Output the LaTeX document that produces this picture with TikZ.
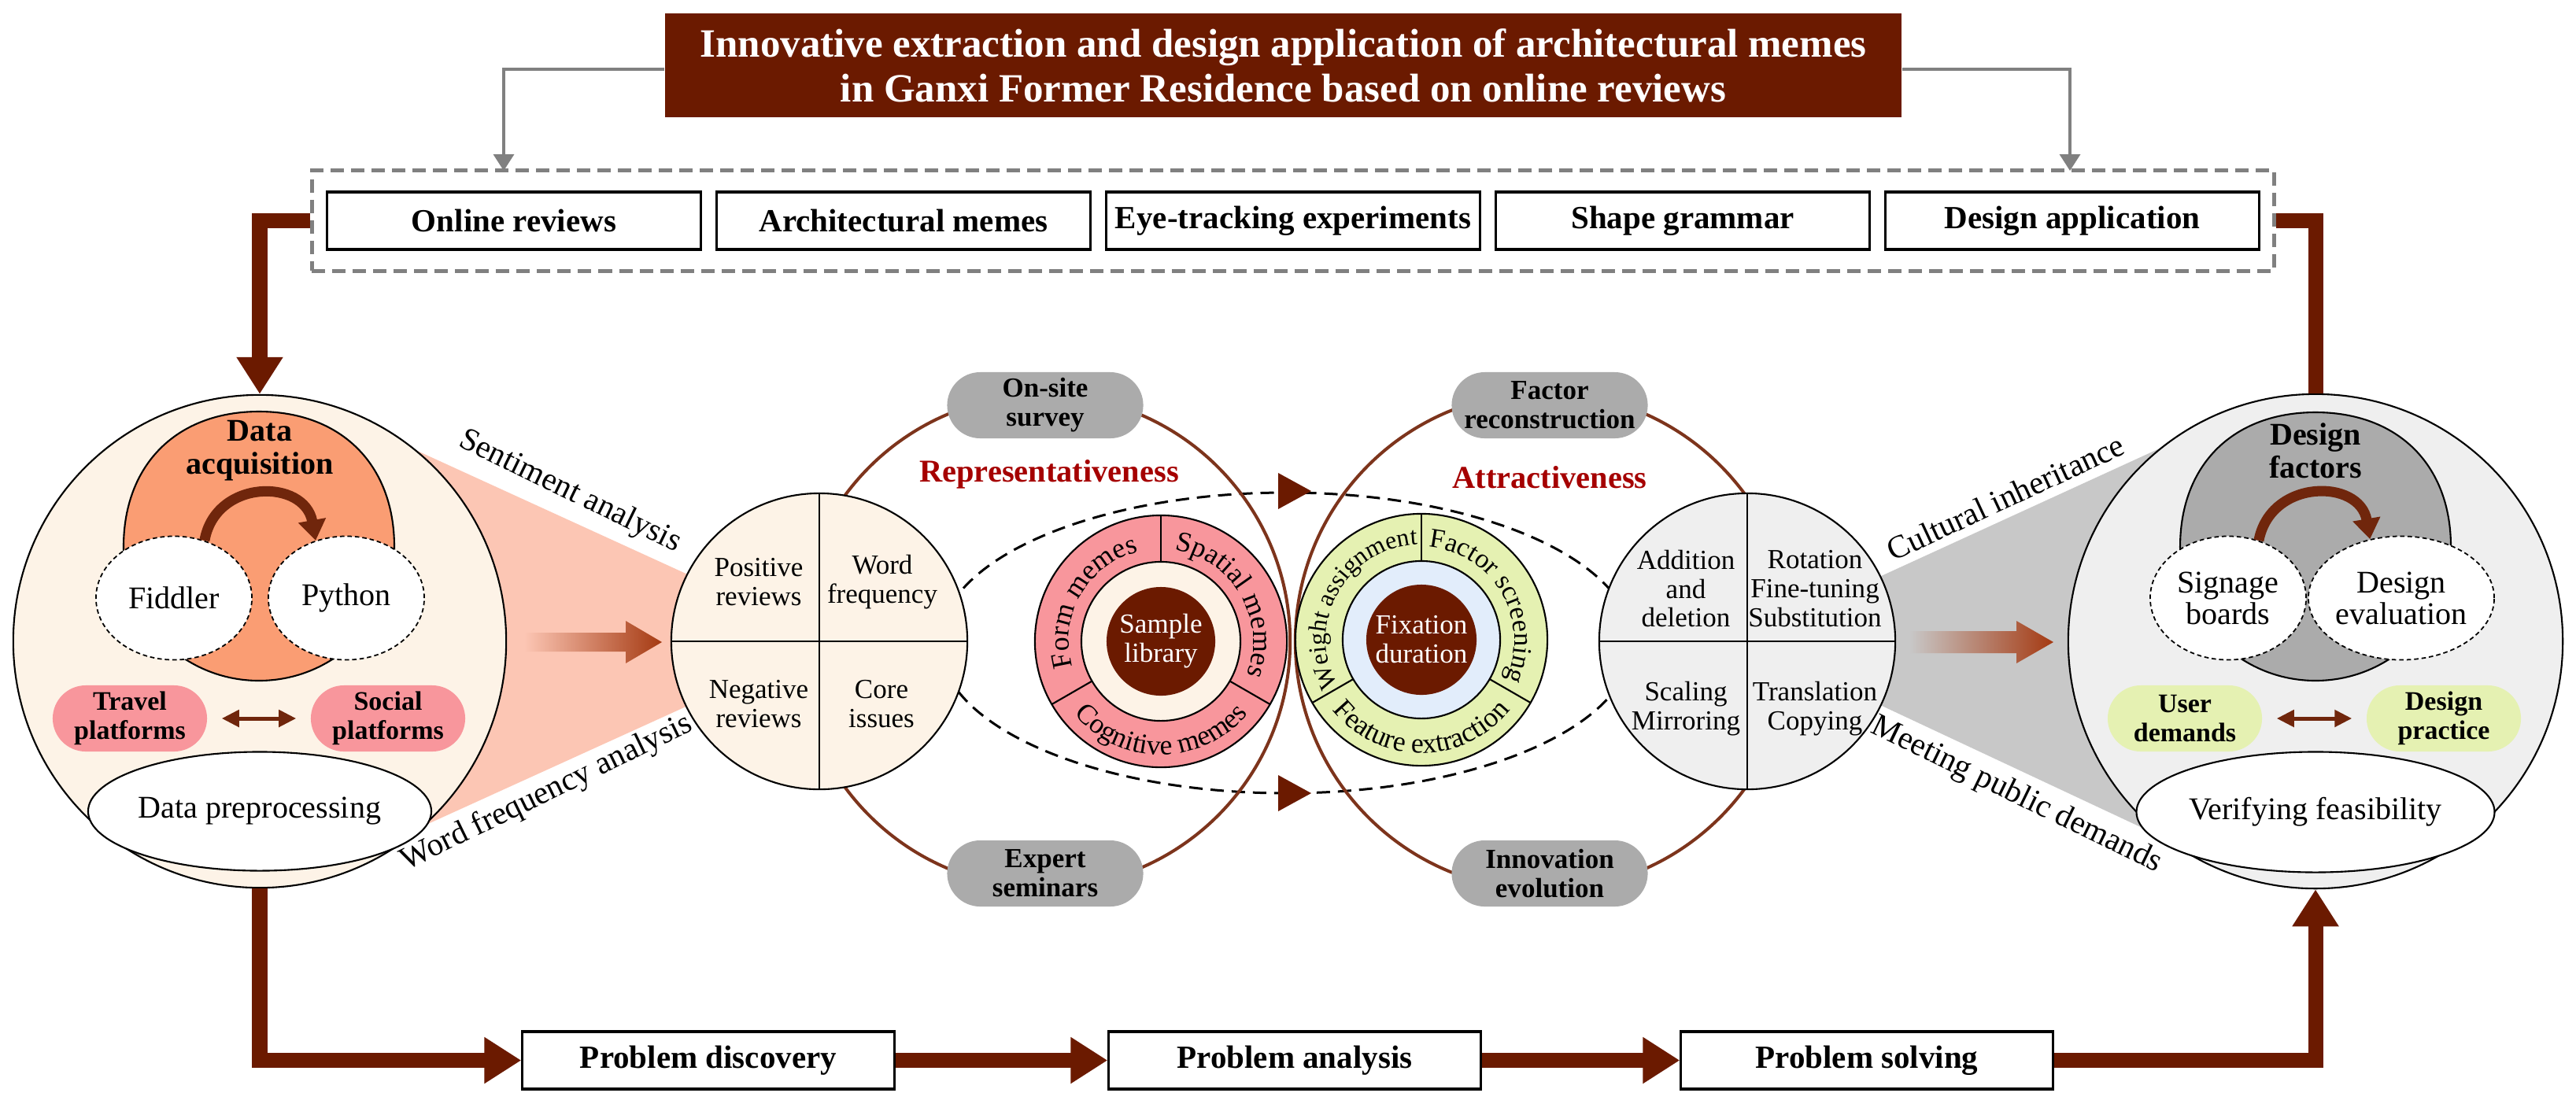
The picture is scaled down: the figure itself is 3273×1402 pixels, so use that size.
\documentclass[tikz,border=0pt]{standalone}
\usepackage{fontspec}
\setmainfont{Liberation Serif}
\usetikzlibrary{arrows.meta,shapes.geometric,calc,decorations.text}
\definecolor{tbrown}{RGB}{107,26,0}
\definecolor{abrown}{RGB}{112,38,12}
\definecolor{cream}{RGB}{253,243,231}
\definecolor{orng}{RGB}{250,157,115}
\definecolor{pinkp}{RGB}{248,150,156}
\definecolor{salmon}{RGB}{252,198,180}
\definecolor{lgray}{RGB}{239,239,239}
\definecolor{mgray}{RGB}{171,171,171}
\definecolor{bgray}{RGB}{200,200,200}
\definecolor{greenp}{RGB}{229,241,178}
\definecolor{lblue}{RGB}{226,237,251}
\definecolor{dred}{RGB}{165,0,0}
\definecolor{ringbr}{RGB}{125,52,28}
\definecolor{gconnc}{RGB}{128,128,128}
\definecolor{headbr}{RGB}{165,58,18}
\newcommand\ftTitle{\fontsize{14.5pt}{16.2pt}\selectfont}
\newcommand\ftBox{\fontsize{11.66pt}{13pt}\selectfont}
\newcommand\ftBig{\fontsize{11.4pt}{12pt}\selectfont}
\newcommand\ftMid{\fontsize{9.96pt}{10.5pt}\selectfont}
\newcommand\ftPill{\fontsize{9.67pt}{10.5pt}\selectfont}
\newcommand\ftRingA{\fontsize{10.2pt}{11pt}\selectfont}
\newcommand\ftRingC{\fontsize{9.8pt}{11pt}\selectfont}
\newcommand\ftRingB{\fontsize{9.1pt}{10pt}\selectfont}
\newcommand\ftKey{\fontsize{11.5pt}{13pt}\selectfont}
\begin{document}
\begin{tikzpicture}[x=0.01cm,y=-0.01cm,
  outl/.style={draw=black,line width=0.6pt},
  topbox/.style={draw=black,line width=0.9pt,fill=white,minimum width=4.75cm,minimum height=0.73cm,inner sep=0pt,font=\ftBox\bfseries},
  botbox/.style={topbox,minimum width=4.72cm},
  bigarr/.style={draw=tbrown,line width=0.19cm,-{Triangle[width=0.56cm,length=0.47cm]}},
  bigln/.style={draw=tbrown,line width=0.19cm},
  gconn/.style={draw=gconnc,line width=1pt,-{Triangle[width=0.26cm,length=0.21cm]}},
  bigc/.style={circle,outl,inner sep=0pt},
  dashell/.style={ellipse,draw=black,line width=0.5pt,dash pattern=on 1.6pt off 1.1pt,fill=white,inner sep=0pt,minimum width=1.98cm,minimum height=1.57cm,font=\fontsize{11.4pt}{11.4pt}\selectfont,align=center},
  solell/.style={ellipse,outl,fill=white,inner sep=0pt,font=\ftBig},
  pill/.style={rounded corners=0.42cm,inner sep=0pt,minimum height=0.84cm,align=center},
  ppill/.style={pill,fill=pinkp,minimum width=1.96cm,font=\ftPill\bfseries},
  gpill/.style={pill,fill=greenp,minimum width=1.96cm,font=\ftPill\bfseries},
  mpill/.style={pill,fill=mgray,minimum width=2.49cm,font=\ftMid\bfseries},
  curv/.style={draw=abrown,line width=0.13cm,-{Triangle[width=0.34cm,length=0.26cm]}},
  dbl/.style={draw=abrown,line width=0.05cm,{Triangle[width=0.21cm,length=0.22cm]}-{Triangle[width=0.21cm,length=0.22cm]},shorten <=0.18cm,shorten >=0.18cm},
  qtxt/.style={font=\ftMid,align=center,inner sep=0pt},
  brc/.style={circle,draw=ringbr,line width=0.04cm,inner sep=0pt},
  keyt/.style={font=\ftKey\bfseries,text=dred},
  beamt/.style={font=\ftBox},
  core/.style={circle,fill=tbrown,inner sep=0pt,minimum size=1.38cm,text=white,font=\ftMid,align=center}]

\fill[white] (0,0) rectangle (3273,1402);
\useasboundingbox (0,0) rectangle (3273,1402);

% beams
\fill[salmon] (480,550) -- (900,742) -- (900,885) -- (480,1076) -- cycle;
\fill[bgray] (2340,755) -- (2820,535) -- (2820,1098) -- (2340,873) -- cycle;

% middle dashed ellipse and brown circles
\draw[black,line width=0.03cm,dash pattern=on 0.17cm off 0.1cm] (1634,817) ellipse[x radius=440,y radius=191];
\node[brc,minimum size=6.26cm] (C1) at (1326,815) {};
\node[brc,minimum size=6.32cm] (C2) at (1962,815) {};
\fill[tbrown] (1624,601) -- (1666,624) -- (1624,647) -- cycle;
\fill[tbrown] (1624,985) -- (1666,1008) -- (1624,1031) -- cycle;

% big circles
\node[bigc,fill=cream,minimum size=6.26cm] (L) at (330,815) {};
\node[bigc,fill=lgray,minimum size=6.28cm] (R) at (2942,815) {};

% left circle content
\draw[outl,fill=orng] (157,695) .. controls (157,590) and (225,523) .. (329,523) .. controls (433,523) and (501,590) .. (501,695) .. controls (501,789) and (424,865) .. (329,865) .. controls (234,865) and (157,789) .. (157,695) -- cycle;
\node[font=\ftBig\bfseries,align=center] (da) at (330,573) {Data\\acquisition};
\node[dashell] (fid) at (221,760) {Fiddler};
\node[dashell] (py) at (440,760) {Python};
\draw[curv] (fid.62) .. controls (274,608) and (387,608) .. (py.118);
\node[ppill] (tp) at (165,913) {Travel\\platforms};
\node[ppill] (sp) at (493,913) {Social\\platforms};
\draw[dbl] (tp) -- (sp);
\node[solell,minimum width=3.66cm,minimum height=1.51cm] (dp) at (330,1031) {Data preprocessing};

% right circle content
\draw[outl,fill=mgray] (2770,695) .. controls (2770,590) and (2838,524) .. (2942,524) .. controls (3046,524) and (3114,590) .. (3114,695) .. controls (3114,789) and (3037,865) .. (2942,865) .. controls (2847,865) and (2770,789) .. (2770,695) -- cycle;
\node[font=\ftBig\bfseries,align=center] (df) at (2942,573) {Design\\factors};
\node[dashell] (sb) at (2831,760) {Signage\\boards};
\node[dashell] (de) at (3051,760) {Design\\evaluation};
\draw[curv] (sb.62) .. controls (2885,608) and (2998,608) .. (de.118);
\node[gpill] (ud) at (2776,913) {User\\demands};
\node[gpill] (dpr) at (3105,913) {Design\\practice};
\draw[dbl] (ud) -- (dpr);
\node[solell,minimum width=3.65cm,minimum height=1.53cm] (vf) at (2942,1032) {Verifying feasibility};

% gradient arrows
\shade[left color=salmon,right color=headbr] (666,804) -- (795,804) -- (795,789) -- (841,816) -- (795,843) -- (795,828) -- (666,828) -- cycle;
\shade[left color=bgray,right color=headbr] (2426,802) -- (2562,802) -- (2562,789) -- (2609,816) -- (2562,843) -- (2562,830) -- (2426,830) -- cycle;

% quartered circles
\node[bigc,fill=cream,minimum size=3.76cm] (Q1) at (1041,815) {};
\draw[outl] (Q1.north) -- (Q1.south) (Q1.west) -- (Q1.east);
\node[qtxt] (q1a) at (964,740) {Positive\\reviews};
\node[qtxt] (q1b) at (1121,740) {Word\\frequency};
\node[qtxt] (q1c) at (964,895) {Negative\\reviews};
\node[qtxt] (q1d) at (1120,895) {Core\\issues};

\node[bigc,fill=lgray,minimum size=3.76cm] (Q2) at (2220,815) {};
\draw[outl] (Q2.north) -- (Q2.south) (Q2.west) -- (Q2.east);
\node[qtxt] (q2a) at (2142,748) {Addition\\and\\deletion};
\node[qtxt] (q2b) at (2306,748) {Rotation\\Fine-tuning\\Substitution};
\node[qtxt] (q2c) at (2142,901) {Scaling\\Mirroring};
\node[qtxt] (q2d) at (2306,901) {Translation\\Copying};

% pink ring
\coordinate (pr) at (1475,815);
\draw[outl,fill=pinkp] (pr) circle[radius=1.6cm];
\draw[outl,fill=cream] (pr) circle[radius=1.01cm];
\foreach \a in {90,210,330} \draw[outl] ($(pr)+(\a:1.01cm)$) -- ($(pr)+(\a:1.6cm)$);
\node[core] (sl) at (pr) {Sample\\library};
\path[decorate,decoration={text along path,text align=center,text={|\ftRingA|Form memes}}] ($(pr)+(210:1.17cm)$) arc[start angle=210,end angle=90,radius=1.17cm];
\path[decorate,decoration={text along path,text align=center,text={|\ftRingA|Spatial memes}}] ($(pr)+(90:1.17cm)$) arc[start angle=90,end angle=-30,radius=1.17cm];
\path[decorate,decoration={text along path,text align=center,text={|\ftRingA|Cognitive memes}}] ($(pr)+(210:1.44cm)$) arc[start angle=210,end angle=330,radius=1.44cm];

% green ring
\coordinate (gr) at (1806,813);
\draw[outl,fill=greenp] (gr) circle[radius=1.6cm];
\draw[outl,fill=lblue] (gr) circle[radius=1.0cm];
\foreach \a in {90,210,330} \draw[outl] ($(gr)+(\a:1.0cm)$) -- ($(gr)+(\a:1.6cm)$);
\node[core,minimum size=1.4cm] (fd) at (gr) {Fixation\\duration};
\path[decorate,decoration={text along path,text align=center,text={|\ftRingB|Weight assignment}}] ($(gr)+(213:1.21cm)$) arc[start angle=213,end angle=88,radius=1.21cm];
\path[decorate,decoration={text along path,text align=center,text={|\ftRingC|Factor screening}}] ($(gr)+(90:1.18cm)$) arc[start angle=90,end angle=-30,radius=1.18cm];
\path[decorate,decoration={text along path,text align=center,text={|\ftRingA|Feature extraction}}] ($(gr)+(210:1.44cm)$) arc[start angle=210,end angle=330,radius=1.44cm];

% gray pills and keywords
\node[mpill] (os) at (1328,515) {On-site\\survey};
\node[mpill] (es) at (1328,1110) {Expert\\seminars};
\node[mpill] (fr) at (1969,515) {Factor\\reconstruction};
\node[mpill] (ie) at (1969,1110) {Innovation\\evolution};
\node[keyt] (rep) at (1333,603) {Representativeness};
\node[keyt] (att) at (1969,607) {Attractiveness};

% beam labels
\node[beamt,rotate=-26] (sa) at (724,625) {Sentiment analysis};
\node[beamt,rotate=26] (wf) at (695,1008) {Word frequency analysis};
\node[beamt,rotate=25] (ci) at (2548,632) {Cultural inheritance};
\node[beamt,rotate=-26] (mp) at (2562,1011) {Meeting public demands};

% top part
\node[fill=tbrown,minimum width=15.71cm,minimum height=1.32cm,inner sep=0pt,text=white,font=\ftTitle\bfseries,align=center] (title) at (1630.5,83) {Innovative extraction and design application of architectural memes\\in Ganxi Former Residence based on online reviews};
\node[draw=gconnc,line width=0.05cm,dash pattern=on 0.17cm off 0.09cm,minimum width=24.92cm,minimum height=1.27cm,inner sep=0pt] (dbox) at (1643,280.5) {};
\node[topbox] (b1) at (653,280.5) {Online reviews};
\node[topbox] (b2) at (1148,280.5) {Architectural memes};
\node[topbox] (b3) at (1643,280.5) {Eye-tracking experiments};
\node[topbox] (b4) at (2138,280.5) {Shape grammar};
\node[topbox] (b5) at (2633,280.5) {Design application};
\coordinate (gl) at (640,217);
\coordinate (grt) at (2630,217);
\draw[gconn] ([yshift=-0.05cm]title.west) -| (gl);
\draw[gconn] ([yshift=-0.05cm]title.east) -| (grt);
\draw[bigarr] (dbox.west) -| (L.north);
\draw[bigln] (dbox.east) -| (R.north);

% bottom part
\node[botbox] (p1) at (900,1347.5) {Problem discovery};
\node[botbox] (p2) at (1645,1347.5) {Problem analysis};
\node[botbox] (p3) at (2372,1347.5) {Problem solving};
\draw[bigarr] (L.south) |- (p1.west);
\draw[bigarr] (p1) -- (p2);
\draw[bigarr] (p2) -- (p3);
\draw[bigarr] (p3.east) -| (R.south);
\end{tikzpicture}
\end{document}
